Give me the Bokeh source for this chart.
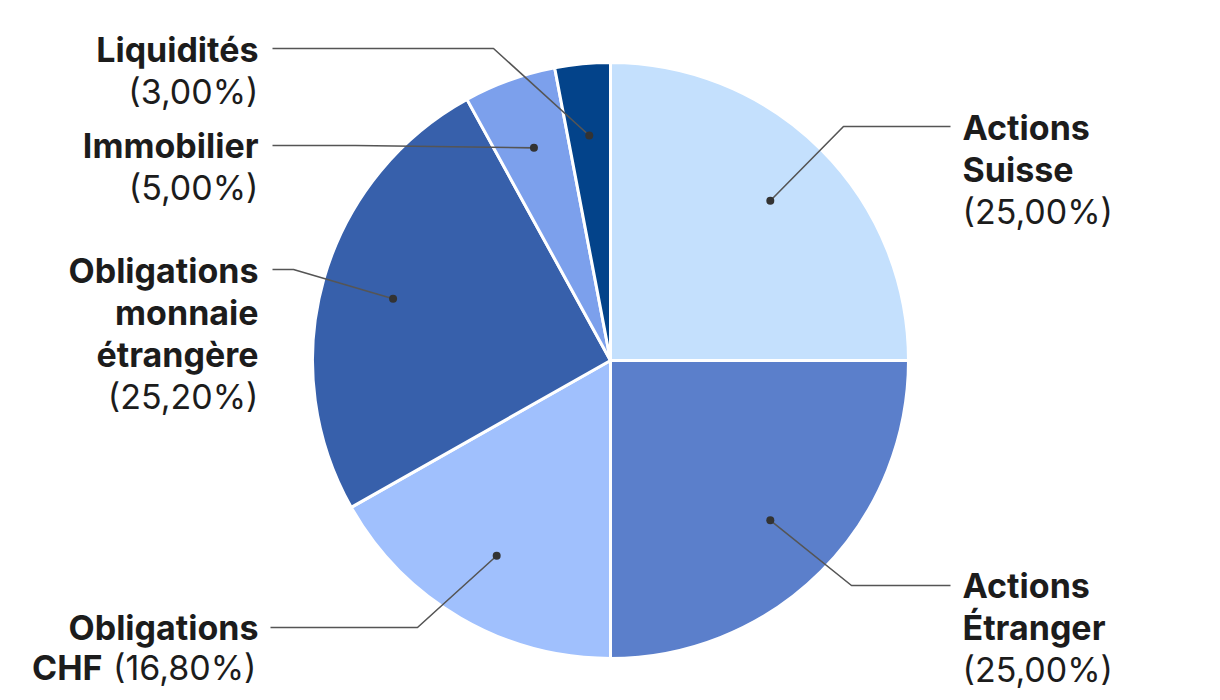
import math
from bokeh.plotting import figure
from bokeh.models import Range1d, ColumnDataSource
from bokeh.core.properties import value
from bokeh.embed import file_html
from bokeh.resources import INLINE

# ---- data ----
categories = ["Actions Suisse", "Actions Étranger", "Obligations CHF",
              "Obligations monnaie étrangère", "Immobilier", "Liquidités"]
shares = [25.00, 25.00, 16.80, 25.20, 5.00, 3.00]
colors = ["#c4e0fd", "#5b7fcb", "#a0c0fd", "#3760ab", "#7ca0ec", "#03438a"]
label_bold = [["Actions", "Suisse"], ["Actions", "Étranger"], ["Obligations"],
              ["Obligations", "monnaie", "étrangère"], ["Immobilier"], ["Liquidités"]]
pct_text = ["(" + f"{v:.2f}".replace(".", ",") + "%)" for v in shares]

# ---- layout (page pixel coordinates) ----
W, H = 1220, 700
CX, CY, R = 610, 360, 298
DOT_R = 226
FS = 34
LH = 42
FONT = value("Inter")
TXT = "#1c1c1c"
LINE = "#555555"

def Y(py):
    return H - py

p = figure(width=W, height=H, x_range=Range1d(0, W), y_range=Range1d(0, H),
           output_backend="svg", toolbar_location=None, min_border=0)
p.axis.visible = False
p.grid.visible = False
p.outline_line_color = None
p.background_fill_color = "white"
p.border_fill_color = "white"

# wedges
total = sum(shares)
starts, ends, mids = [], [], []
a = 90.0
for v in shares:
    sweep = v / total * 360.0
    starts.append(math.radians(a))
    ends.append(math.radians(a - sweep))
    mids.append(math.radians(a - sweep / 2))
    a -= sweep
src = ColumnDataSource(dict(x=[CX] * len(shares), y=[Y(CY)] * len(shares),
                            s=starts, e=ends, c=colors))
p.wedge(x="x", y="y", radius=R, radius_units="screen", start_angle="s", end_angle="e",
        direction="clock", fill_color="c", line_color="white", line_width=3, source=src)

dots_x = [CX + DOT_R * math.cos(m) for m in mids]
dots_y = [Y(CY) + DOT_R * math.sin(m) for m in mids]

# label layout: elbow point, horizontal end, text anchor, alignment
layout = [
    dict(elbow=(843, 126), end=(950, 126), tx=962, ty=127, align="left"),
    dict(elbow=(851, 585), end=(950, 585), tx=962, ty=585, align="left"),
    dict(elbow=(417, 627), end=(270, 627), tx=258, ty=627, align="right"),
    dict(elbow=(293, 269), end=(272, 269), tx=258, ty=270, align="right"),
    dict(elbow=(355, 145), end=(272, 145), tx=258, ty=145, align="right"),
    dict(elbow=(493, 48), end=(272, 48), tx=258, ty=49, align="right"),
]

for i, L in enumerate(layout):
    xs = [dots_x[i], L["elbow"][0], L["end"][0]]
    ys = [dots_y[i], Y(L["elbow"][1]), Y(L["end"][1])]
    p.line(xs, ys, line_color=LINE, line_width=1.6)

p.scatter(dots_x, dots_y, size=8, fill_color="#333333", line_color=None)

for i, L in enumerate(layout):
    lines = label_bold[i]
    for k, t in enumerate(lines):
        p.text(x=[L["tx"]], y=[Y(L["ty"] + k * LH)], text=[t], text_font=FONT,
               text_font_size=f"{FS}px", text_font_style="bold", text_color=TXT,
               text_align=L["align"], text_baseline="middle")
    if categories[i] == "Obligations CHF":
        py = L["ty"] + 40
        p.text(x=[L["tx"] - 2], y=[Y(py)], text=[pct_text[i]], text_font=FONT,
               text_font_size=f"{FS}px", text_color=TXT,
               text_align="right", text_baseline="middle")
        p.text(x=[102], y=[Y(py)], text=["CHF"], text_font=FONT,
               text_font_size=f"{FS}px", text_font_style="bold", text_color=TXT,
               text_align="right", text_baseline="middle")
    else:
        py = L["ty"] + len(lines) * LH
        p.text(x=[L["tx"]], y=[Y(py)], text=[pct_text[i]], text_font=FONT,
               text_font_size=f"{FS}px", text_color=TXT,
               text_align=L["align"], text_baseline="middle")

open("out.html", "w").write(file_html(p, INLINE))
